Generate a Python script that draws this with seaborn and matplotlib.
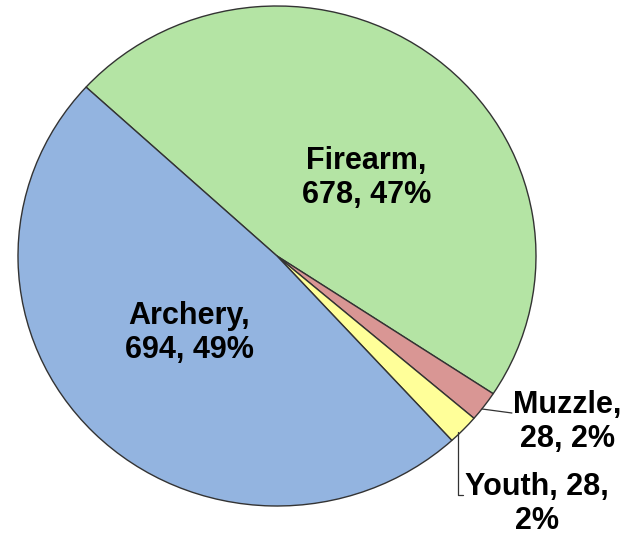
import matplotlib
matplotlib.use("Agg")
import matplotlib.pyplot as plt
import seaborn as sns

sns.set_style("white")
plt.rcParams['font.family'] = ['Liberation Sans', 'DejaVu Sans']

# datos del grafico (orden en sentido horario desde arriba a la izquierda)
categorias = ["Firearm", "Muzzle", "Youth", "Archery"]
valores = [678, 28, 28, 694]
porcentajes = [47, 2, 2, 49]
colores = ["#B4E4A4", "#D99694", "#FFFF99", "#93B4E0"]

fig = plt.figure(figsize=(6.39, 5.36), dpi=100)
# pie ligeramente eliptico como en la referencia
ax = fig.add_axes([18 / 639, 30 / 536, 518 / 639, 500 / 536])
ax.pie(valores, colors=colores, startangle=137.5, counterclock=False,
       wedgeprops=dict(edgecolor="#333333", linewidth=1.0))
ax.set_aspect("auto")
ax.set_xlim(-1, 1)
ax.set_ylim(-1, 1)
ax.axis("off")

etiquetas = [f"{c},\n{v}, {p}%" for c, v, p in zip(categorias, valores, porcentajes)]
etiquetas[2] = f"{categorias[2]}, {valores[2]},\n{porcentajes[2]}%"

pos = {"Firearm": (0.345, 0.312), "Archery": (-0.34, -0.308),
       "Muzzle": (1.12, -0.664), "Youth": (1.004, -0.992)}
for c, t in zip(categorias, etiquetas):
    x, y = pos[c]
    ax.text(x, y, t, ha="center", va="center", fontsize=22,
            fontweight="bold", color="black", linespacing=1.15)

# lineas guia
ax.plot([0.792, 0.907], [-0.612, -0.628], color="#333333", lw=0.9, clip_on=False)
ax.plot([0.699, 0.699, 0.718], [-0.704, -0.956, -0.956], color="#333333", lw=0.9, clip_on=False)

fig.savefig("out.png", dpi=100, facecolor="white")
